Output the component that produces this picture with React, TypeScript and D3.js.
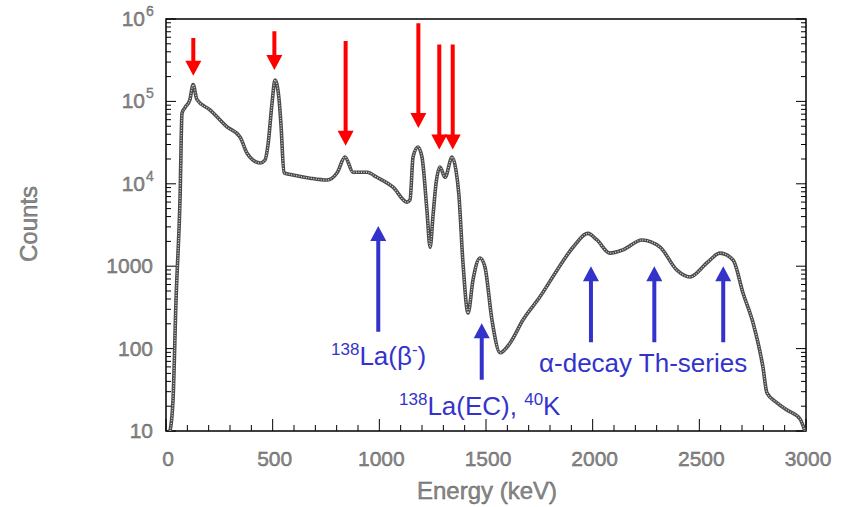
import React from "react";
import * as d3 from "d3";

// Spectrum (energy keV, counts)
const energies = [19, 33, 47, 66, 75, 89, 112, 127, 145, 206, 286, 347, 380, 408, 441, 464, 478, 497, 511, 530, 539, 553, 595, 675, 755, 802, 839, 877, 942, 989, 1064, 1130, 1144, 1158, 1181, 1200, 1223, 1238, 1252, 1266, 1284, 1308, 1341, 1359, 1373, 1392, 1416, 1439, 1472, 1495, 1528, 1566, 1613, 1673, 1753, 1833, 1908, 1978, 2020, 2081, 2142, 2231, 2316, 2395, 2456, 2536, 2597, 2658, 2705, 2752, 2798, 2817, 2864, 2911, 2972, 2995];
const counts = [10, 24, 390, 6900, 72000, 84000, 105000, 160000, 105000, 79000, 49000, 37000, 23500, 19400, 17900, 19400, 29500, 95000, 182000, 105000, 52000, 13600, 12800, 11700, 11100, 13600, 21100, 13800, 13800, 12000, 9100, 6000, 6400, 21100, 28000, 21100, 4800, 1700, 4200, 10200, 16000, 12000, 21100, 14700, 7300, 1100, 270, 680, 1260, 980, 222, 89, 117, 222, 425, 895, 1700, 2500, 2080, 1440, 1580, 2080, 1700, 895, 740, 1100, 1440, 1190, 470, 205, 60, 29, 22, 18, 14, 10];

const xTicksMajor = [0, 500, 1000, 1500, 2000, 2500, 3000];
const xTickLabels = ["0", "500", "1000", "1500", "2000", "2500", "3000"];
const yDecades = [10, 100, 1000, 1e4, 1e5, 1e6];
const yLabelBase = ["10", "100", "1000", "10", "10", "10"];
const yLabelSup = ["", "", "", "4", "5", "6"];

// Red arrows: energy, top count, tip count
const redE = [128, 508, 842, 1183, 1281, 1344];
const redTop = [5.9e5, 7.1e5, 5.4e5, 8.9e5, 4.9e5, 4.9e5];
const redTip = [2.05e5, 2.4e5, 2.9e4, 4.75e4, 2.6e4, 2.6e4];

// Blue arrows: energy, tip count, bottom count
const blueE = [995, 1480, 1992, 2289, 2612];
const blueTip = [3080, 203, 1000, 1000, 1000];
const blueBottom = [160, 42, 119, 119, 119];

const W = 845, H = 507;
const x = d3.scaleLinear().domain([0, 3000]).range([166, 806]);
const y = d3.scaleLog().domain([10, 1e6]).range([431, 19]);

function arrowPath(xc: number, y0: number, y1: number, shaft = 4, headW = 16, headL = 15) {
  const dir = y1 > y0 ? 1 : -1;
  const hb = y1 - dir * headL;
  const s = shaft / 2, h = headW / 2;
  return `M${xc - s},${y0} L${xc + s},${y0} L${xc + s},${hb} L${xc + h},${hb} L${xc},${y1} L${xc - h},${hb} L${xc - s},${hb} Z`;
}

export default function App() {
  const pts = energies.map((e, i) => [e, counts[i]] as [number, number]);
  const line = d3.line<[number, number]>().x(d => x(d[0])).y(d => y(d[1])).curve(d3.curveMonotoneX);
  const path = line(pts) || "";

  const xMinor = d3.range(0, 3001, 100);
  const yMinor: number[] = [];
  for (let d = 10; d < 1e6; d *= 10) for (let k = 2; k <= 9; k++) yMinor.push(d * k);

  const tickColor = "#000";
  const labelColor = "#8a8a8a";
  const blue = "#3333cc";
  const font = "Liberation Sans, Arial, sans-serif";

  return (
    <svg width={W} height={H} style={{ position: "absolute", left: 0, top: 0, background: "#fff" }} fontFamily={font}>
      <rect x={166} y={19} width={640} height={412} fill="none" stroke="#000" strokeWidth={1.5} />
      {xMinor.map(v => (
        <line key={"xm" + v} x1={x(v)} x2={x(v)} y1={431} y2={431 - (v % 500 === 0 ? 12 : 6)} stroke={tickColor} strokeWidth={1} />
      ))}
      {yDecades.map(v => (
        <g key={"yd" + v}>
          <line x1={166} x2={176} y1={y(v)} y2={y(v)} stroke={tickColor} strokeWidth={1} />
          <line x1={806} x2={796} y1={y(v)} y2={y(v)} stroke={tickColor} strokeWidth={1} />
        </g>
      ))}
      {yMinor.map(v => (
        <g key={"ym" + v}>
          <line x1={166} x2={171} y1={y(v)} y2={y(v)} stroke={tickColor} strokeWidth={1} />
          <line x1={806} x2={801} y1={y(v)} y2={y(v)} stroke={tickColor} strokeWidth={1} />
        </g>
      ))}
      {xTicksMajor.map((v, i) => (
        <text key={"xl" + v} x={x(v) + 2} y={466} textAnchor="middle" fontSize={21} fill={labelColor} stroke="#555" strokeWidth={0.4}>
          {xTickLabels[i]}
        </text>
      ))}
      {yDecades.map((v, i) => (
        <text key={"yl" + v} x={yLabelSup[i] ? 145 : 153} y={y(v) + 7} textAnchor="end" fontSize={21} fill={labelColor} stroke="#555" strokeWidth={0.4}>
          {yLabelBase[i]}
        </text>
      ))}
      {yDecades.map((v, i) =>
        yLabelSup[i] ? (
          <text key={"ys" + v} x={146} y={y(v) - 3} textAnchor="start" fontSize={14} fill={labelColor} stroke="#555" strokeWidth={0.3}>
            {yLabelSup[i]}
          </text>
        ) : null
      )}
      <text x={487} y={499} textAnchor="middle" fontSize={24} fill={labelColor} stroke="#555" strokeWidth={0.4}>Energy (keV)</text>
      <text transform="translate(37,224) rotate(-90)" textAnchor="middle" fontSize={24} fill={labelColor} stroke="#555" strokeWidth={0.4}>Counts</text>

      <path d={path} fill="none" stroke="#4a4a4a" strokeWidth={3.6} strokeLinejoin="round" />
      <path d={path} fill="none" stroke="#fff" strokeWidth={1.3} strokeDasharray="1 1.5" opacity={0.8} />

      {redE.map((e, i) => (
        <path key={"ra" + i} d={arrowPath(x(e), y(redTop[i]), y(redTip[i]))} fill="#ff0000" />
      ))}
      {blueE.map((e, i) => (
        <path key={"ba" + i} d={arrowPath(x(e), y(blueBottom[i]), y(blueTip[i]))} fill={blue} />
      ))}

      <text x={331} y={365} fontSize={26} fill={blue}>
        <tspan fontSize={17} dy={-10}>138</tspan>
        <tspan dy={10}>La(β</tspan>
        <tspan fontSize={17} dy={-10}>-</tspan>
        <tspan dy={10}>)</tspan>
      </text>
      <text x={399} y={415} fontSize={26} fill={blue}>
        <tspan fontSize={17} dy={-10}>138</tspan>
        <tspan dy={10}>La(EC), </tspan>
        <tspan fontSize={17} dy={-10}>40</tspan>
        <tspan dy={10}>K</tspan>
      </text>
      <text x={539} y={372} fontSize={26} fill={blue}>α-decay Th-series</text>
    </svg>
  );
}
